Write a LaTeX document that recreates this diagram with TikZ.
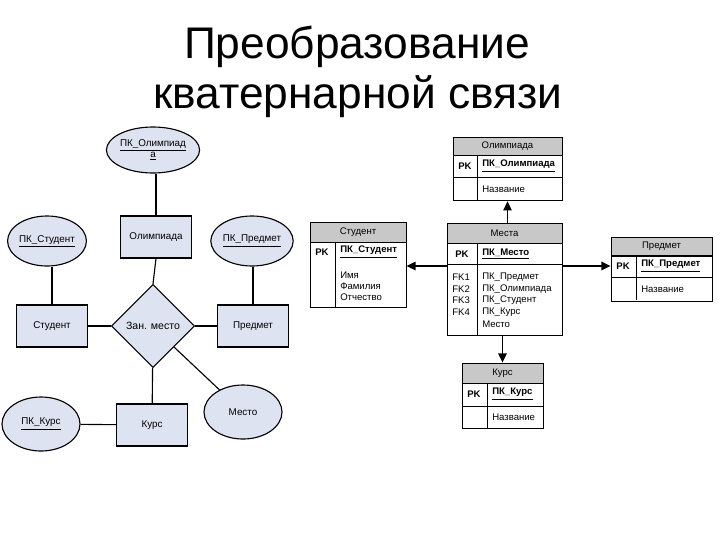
\documentclass[tikz,border=0pt]{standalone}
\usepackage{fontspec}
\setmainfont{Liberation Sans}
\usetikzlibrary{arrows.meta,positioning,shapes.geometric}

\definecolor{erfill}{RGB}{222,227,241}
\definecolor{headgray}{RGB}{200,200,200}

\begin{document}
\begin{tikzpicture}[
            x=0.025cm, y=-0.025cm,
            title/.style={font=\fontsize{31.5}{35}\selectfont, anchor=base},
            entity/.style={draw, line width=0.8pt, fill=erfill, minimum width=1.775cm, minimum height=1.05cm, font=\fontsize{7}{8}\selectfont},
            attr/.style={draw, ellipse, line width=0.8pt, fill=erfill, inner sep=0pt, font=\fontsize{7}{8}\selectfont, align=center},
            relship/.style={draw, diamond, line width=0.8pt, fill=erfill, inner sep=0pt, minimum size=2.08cm, font=\fontsize{7.5}{9}\selectfont},
            erline/.style={line width=0.8pt},
            thead/.style={draw, line width=0.6pt, fill=headgray, inner sep=0pt, font=\fontsize{6.8}{8}\selectfont},
            tbody/.style={draw, line width=0.6pt, fill=white, inner sep=0pt},
            tline/.style={line width=0.6pt},
            fld/.style={anchor=west, inner sep=0pt, font=\fontsize{6.8}{8}\selectfont},
            pk/.style={inner sep=0pt, font=\fontsize{6.8}{8}\selectfont\bfseries},
            link/.style={-{Triangle[length=6.5pt,width=6pt]}, line width=1pt}
        ]
        \useasboundingbox (0,0) rectangle (720,540);

        % title
        \node[title] (ttl1) at (357,58) {Преобразование};
        \node[title] (ttl2) at (358,108) {кватернарной связи};

        % ER diagram
        \node[attr, minimum width=1.925cm, minimum height=1.15cm] (akOl) at (153,150) {\underline{ПК\_Олимпиад}\\\underline{а}};
        \node[entity] (eOl) at (156,237) {Олимпиада};
        \node[attr, minimum width=1.825cm, minimum height=1.25cm] (akSt) at (47,241) {\underline{ПК\_Студент}};
        \node[attr, minimum width=1.925cm, minimum height=1.25cm] (akPr) at (252,241) {\underline{ПК\_Предмет}};
        \node[entity] (eSt) at (52,326) {Студент};
        \node[relship] (rel) at (153,326) {Зан. место};
        \node[entity] (ePr) at (253,326) {Предмет};
        \node[attr, minimum width=1.95cm, minimum height=1.35cm] (akKu) at (41,424) {\underline{ПК\_Курс}};
        \node[entity] (eKu) at (152,425) {Курс};
        \node[attr, minimum width=1.95cm, minimum height=1.35cm] (aMe) at (243,412) {Место};

        \draw[erline] (akOl.south -| eOl.north) -- (eOl.north);
        \draw[erline] (eOl.south) -- (rel.north);
        \draw[erline] (akSt.south -| eSt.north) -- (eSt.north);
        \draw[erline] (akPr.south -| ePr.north) -- (ePr.north);
        \draw[erline] (eSt) -- (rel);
        \draw[erline] (rel) -- (ePr);
        \draw[erline] (rel) -- (eKu);
        \draw[erline] (akKu) -- (eKu);
        \draw[erline] (rel.south east) -- (aMe);

        % table: Олимпиада
        \node[thead, minimum width=2.725cm, minimum height=0.45cm] (olH) at (507.5,146) {Олимпиада};
        \node[tbody, minimum width=2.725cm, minimum height=1.125cm, below=0pt of olH] (olB) {};
        \draw[tline] (477,155) -- (477,200);
        \draw[tline] (453,177) -- (562,177);
        \node[pk] (olPK) at (465,166) {PK};
        \node[fld] (olKey) at (482,166) {\bfseries\underline{ПК\_Олимпиада}};
        \node[fld] (olName) at (482,189) {Название};

        % table: Студент
        \node[thead, minimum width=2.4cm, minimum height=0.5cm] (stH) at (358,232) {Студент};
        \node[tbody, minimum width=2.4cm, minimum height=1.625cm, below=0pt of stH] (stB) {};
        \draw[tline] (335,242) -- (335,307);
        \node[pk] (stPK) at (322,252) {PK};
        \node[fld] (stKey) at (340,252) {\bfseries\underline{ПК\_Студент}};
        \node[fld] (stF1) at (340,275) {Имя};
        \node[fld] (stF2) at (340,286) {Фамилия};
        \node[fld] (stF3) at (340,297) {Отчество};

        % table: Места
        \node[thead, minimum width=2.875cm, minimum height=0.5cm] (msH) at (504.5,233) {Места};
        \node[tbody, minimum width=2.875cm, minimum height=2.3cm, below=0pt of msH] (msB) {};
        \draw[tline] (477,243) -- (477,335);
        \draw[tline] (447,264) -- (562,264);
        \node[pk] (msPK) at (462,254) {PK};
        \node[fld] (msKey) at (482,254) {\bfseries\underline{ПК\_Место}};
        \node[fld] (msFk1) at (452,277) {FK1};
        \node[fld] (msFk2) at (452,289) {FK2};
        \node[fld] (msFk3) at (452,300) {FK3};
        \node[fld] (msFk4) at (452,312) {FK4};
        \node[fld] (msF1) at (482,277) {ПК\_Предмет};
        \node[fld] (msF2) at (482,289) {ПК\_Олимпиада};
        \node[fld] (msF3) at (482,300) {ПК\_Студент};
        \node[fld] (msF4) at (482,312) {ПК\_Курс};
        \node[fld] (msF5) at (482,324) {Место};

        % table: Предмет
        \node[thead, minimum width=2.525cm, minimum height=0.45cm] (prH) at (661.5,246.5) {Предмет};
        \node[tbody, minimum width=2.525cm, minimum height=1.125cm, below=0pt of prH] (prB) {};
        \draw[tline] (636,255) -- (636,300);
        \draw[tline] (611,277) -- (712,277);
        \node[pk] (prPK) at (623,266) {PK};
        \node[fld] (prKey) at (641,266) {\bfseries\underline{ПК\_Предмет}};
        \node[fld] (prName) at (641,289) {Название};

        % table: Курс
        \node[thead, minimum width=2.025cm, minimum height=0.5cm] (kuH) at (502.5,373) {Курс};
        \node[tbody, minimum width=2.025cm, minimum height=1.125cm, below=0pt of kuH] (kuB) {};
        \draw[tline] (487,383) -- (487,428);
        \draw[tline] (462,406) -- (543,406);
        \node[pk] (kuPK) at (474,394) {PK};
        \node[fld] (kuKey) at (492,394) {\bfseries\underline{ПК\_Курс}};
        \node[fld] (kuName) at (492,417) {Название};

        % links
        \coordinate (msL) at (447,266);
        \coordinate (msR) at (562,266);
        \draw[link] (msH.north -| olB.south) -- (olB.south);
        \draw[link] (msL) -- (msL -| stB.east);
        \draw[link] (msR) -- (msR -| prB.west);
        \draw[link] (msB.south -| kuH.north) -- (kuH.north);

    \end{tikzpicture}
\end{document}
